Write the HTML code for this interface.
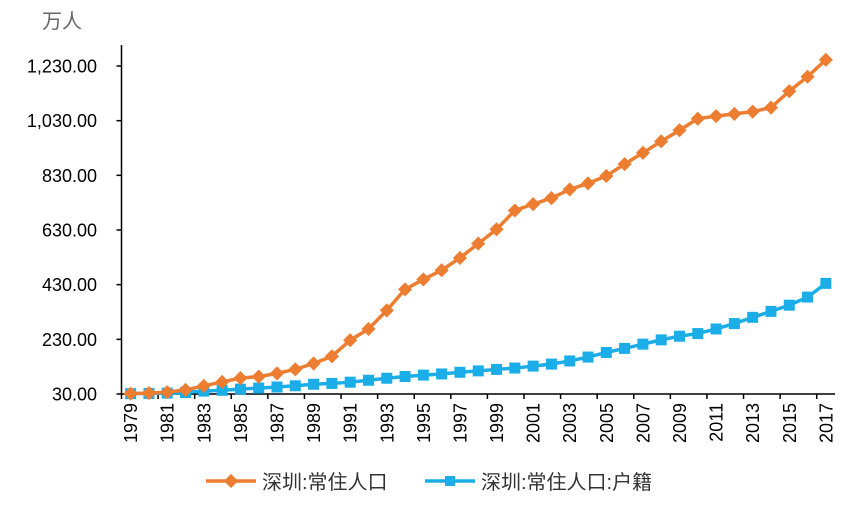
<!DOCTYPE html>
<html><head><meta charset="utf-8"><style>
body{margin:0;background:#fff;}
svg text{font-family:"Liberation Sans","Noto Sans CJK SC",sans-serif;}
</style></head><body>
<svg id="chart" width="861" height="517" viewBox="0 0 861 517" xmlns="http://www.w3.org/2000/svg">
<text x="42" y="28" font-size="20" fill="#666">万人</text>
<g id="axes"></g><g id="series"></g>
<g>
<g>
<line x1="206" y1="481" x2="256" y2="481" stroke="#ED7D31" stroke-width="3.5"/>
<rect x="226" y="476" width="10" height="10" fill="#ED7D31" transform="rotate(45 231 481)"/>
<text x="262" y="489" font-size="20" fill="#333">深圳:常住人口</text></g>
<g>
<line x1="425" y1="481" x2="475" y2="481" stroke="#1AADE8" stroke-width="3.5"/>
<rect x="445" y="476" width="10" height="10" fill="#1AADE8"/>
<text x="481" y="489" font-size="20" fill="#333">深圳:常住人口:户籍</text></g>
</g>
</svg>
<script>
const years=[];for(let y=1979;y<=2017;y++)years.push(y);
const resident=[31.41,33.29,36.69,44.95,59.52,74.13,88.15,93.56,105.44,120.14,141.6,167.78,226.76,268.02,335.97,412.71,449.15,482.89,527.75,580.33,632.56,701.24,724.57,746.62,778.27,800.8,827.75,871.1,912.37,954.28,995.01,1037.2,1046.74,1054.74,1062.89,1077.89,1137.87,1190.84,1252.83];
const hukou=[31.26,32.09,33.39,35.42,40.52,43.52,47.86,51.64,55.62,60.12,65.71,68.65,73.22,80.22,87.69,93.97,99.16,103.38,109.46,114.6,119.85,124.92,132.04,139.45,150.93,165.13,181.93,196.83,212.38,228.07,241.45,251.03,267.9,287.62,310.47,332.21,354.99,384.52,434.72];
const yTicks=[30,230,430,630,830,1030,1230];
const L=121.5,R=835,B=394,T=45;
const cw=(R-L)/years.length;
const xs=i=>L+cw*(i+0.5);
const ys=v=>B-(v-30)*(328/1200);
const NS="http://www.w3.org/2000/svg";
function mk(t,a,p){const e=document.createElementNS(NS,t);for(const k in a)e.setAttribute(k,a[k]);p.appendChild(e);return e;}
const ax=document.getElementById('axes'),se=document.getElementById('series');
let e=mk('line',{x1:L,y1:T,x2:L,y2:B,stroke:'#000','stroke-width':1.5},ax);


e=mk('line',{x1:L,y1:B,x2:R,y2:B,stroke:'#000','stroke-width':1.5},ax);


yTicks.forEach(v=>{
 mk('line',{x1:L-5,y1:ys(v),x2:L,y2:ys(v),stroke:'#000','stroke-width':1.5},ax);
 const t=mk('text',{x:97,y:ys(v)+6.5,'text-anchor':'end',fill:'#000'},ax);
 t.style.fontSize='18px';
 t.textContent=v.toLocaleString('en-US',{minimumFractionDigits:2});
 
 
});
for(let i=0;i<=years.length;i+=2){mk('line',{x1:L+cw*i,y1:B,x2:L+cw*i,y2:B+5,stroke:'#000','stroke-width':1.5},ax);}
years.forEach((y,i)=>{if(i%2)return;
 const x=xs(i)+6.5;
 const t=mk('text',{x:x,y:403,'text-anchor':'end',fill:'#000',transform:`rotate(-90 ${x} 403)`},ax);
 t.style.fontSize='18px';
 t.textContent=y;
 
 
});
function draw(vals,col,shape,name){
 const g=mk('g',{},se);
 
 
 const pl=mk('polyline',{points:vals.map((v,i)=>xs(i)+','+ys(v)).join(' '),fill:'none',stroke:col,'stroke-width':3.5},g);
 
 
 vals.forEach((v,i)=>{const x=xs(i),y=ys(v);
  const m=shape==='d'?mk('rect',{x:x-5,y:y-5,width:10,height:10,fill:col,transform:`rotate(45 ${x} ${y})`},g):mk('rect',{x:x-5.5,y:y-5.5,width:11,height:11,fill:col},g);
  
  
 });
}
draw(hukou,'#1AADE8','s','hukou-series');
draw(resident,'#ED7D31','d','resident-series');
</script>
</body></html>
